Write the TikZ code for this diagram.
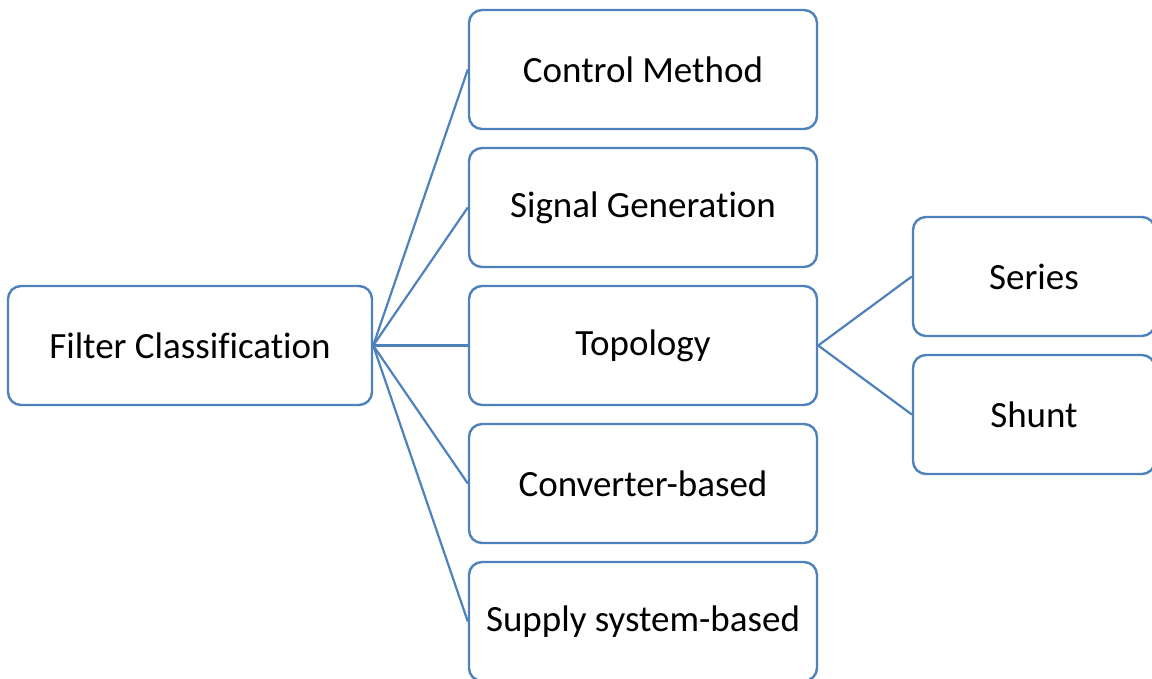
\documentclass[tikz,border=0pt]{standalone}
\usepackage{fontspec}
\setmainfont[Ligatures={NoCommon}]{Carlito}
\definecolor{boxblue}{RGB}{79,129,189}
\begin{document}
\begin{tikzpicture}[x=1pt,y=-1pt,
  box/.style={draw=boxblue, line width=2.4pt, rounded corners=13pt, fill=white,
    inner sep=0pt, font=\fontsize{37}{42}\selectfont, text=black},
  link/.style={draw=boxblue, line width=2.2pt}]
\useasboundingbox (0,0) rectangle (1152,679);
\clip (0,0) rectangle (1152,679);
\node[box, minimum width=364pt, minimum height=119pt] (root) at (190,345.5) {Filter Classification};
\node[box, minimum width=348pt, minimum height=119pt] (c1) at (643,69.5) {Control Method};
\node[box, minimum width=348pt, minimum height=119pt] (c2) at (643,207.5) {Signal Generation};
\node[box, minimum width=348pt, minimum height=119pt] (c3) at (643,345.5) {Topology};
\node[box, minimum width=348pt, minimum height=119pt] (c4) at (643,483.5) {Converter-based};
\node[box, minimum width=348pt, minimum height=119pt] (c5) at (643,621.5) {Supply system-based};
\node[box, minimum width=242pt, minimum height=119pt] (s1) at (1034,276.5) {Series};
\node[box, minimum width=242pt, minimum height=119pt] (s2) at (1034,414.5) {Shunt};
\foreach \n in {c1,c2,c3,c4,c5} \draw[link] (root.east) -- (\n.west);
\draw[link] (c3.east) -- (s1.west);
\draw[link] (c3.east) -- (s2.west);
\end{tikzpicture}
\end{document}
